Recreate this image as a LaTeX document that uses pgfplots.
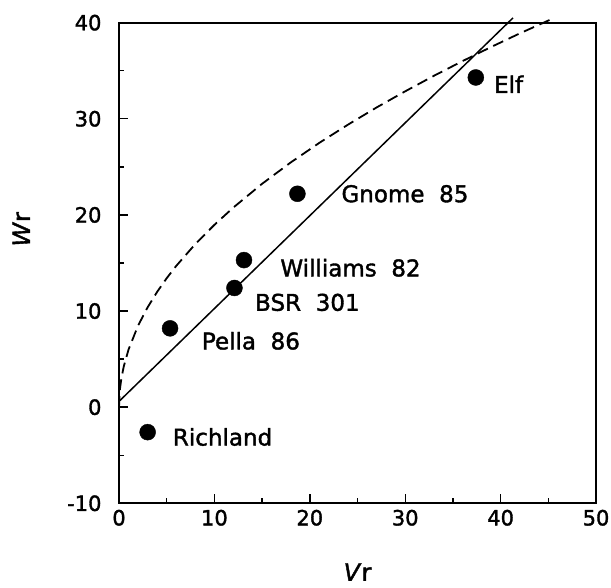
\documentclass[border=0pt]{standalone}
\usepackage{pgfplots}
\pgfplotsset{compat=1.18}
\usepackage{fontspec}
\setmainfont{DejaVu Sans}[RawFeature={embolden=1.6}]
\begin{document}
\begin{tikzpicture}[x=1pt,y=1pt]
\begin{axis}[
  scale only axis,
  width=477pt, height=480.6pt,
  xmin=0, xmax=50, ymin=-10, ymax=40,
  xtick={0,10,...,50}, ytick={-10,0,...,40},
  minor xtick={5,15,...,45}, minor ytick={-5,5,...,35},
  tick align=inside,
  xtick pos=bottom, ytick pos=left,
  major tick length=9pt, minor tick length=5pt,
  tick style={line width=1.4pt, black},
  axis line style={line width=2pt},
  /pgf/number format/assume math mode=true,
  tick label style={font=\fontsize{21}{24}\selectfont},
  xticklabel style={yshift=-3pt},
  yticklabel style={xshift=-14pt},
  xlabel={\textit{V}r}, ylabel={\textit{W}r},
  every axis x label/.style={at={(axis description cs:0.5,-0.143)},anchor=center,font=\fontsize{24}{27}\selectfont},
  every axis y label/.style={at={(axis description cs:-0.205,0.57)},anchor=center,rotate=90,font=\fontsize{24}{27}\selectfont},
  clip=false,
]
\addplot[black, line width=1.8pt, dash pattern=on 11pt off 6pt] coordinates {
(0,0) (0.1,1.9) (0.25,3.0) (0.5,4.24) (1,6.0) (2,8.49) (3,10.39) (4,12.0)
(5,13.42) (6,14.7) (8,16.97) (10,18.97) (12,20.78) (15,23.24) (18,25.46)
(21,27.5) (24,29.39) (27,31.18) (30,32.86) (33,34.47) (36,36.0) (39,37.47)
(42,38.88) (45.4,40.4)};
\addplot[black, line width=1.5pt] coordinates {(0,0.6) (41.3,40.5)};
\addplot[only marks, mark=*, mark size=8pt, black] coordinates {
(3.0,-2.6) (5.35,8.2) (12.1,12.4) (13.1,15.3) (18.7,22.2) (37.4,34.3)};
\begin{scope}[every node/.style={anchor=west, font=\fontsize{23}{26}\selectfont, inner sep=0pt}]
\node at (axis cs:5.63,-3.1) {Richland};
\node at (axis cs:8.67,6.9) {Pella\ \ 86};
\node at (axis cs:14.25,10.9) {BSR\ \ 301};
\node at (axis cs:16.9,14.5) {Williams\ \ 82};
\node at (axis cs:23.3,22.2) {Gnome\ \ 85};
\node at (axis cs:39.3,33.6) {Elf};
\end{scope}
\coordinate (bl) at (rel axis cs:-0.2495,-0.1762);
\coordinate (tr) at (rel axis cs:1.0314,1.0472);
\end{axis}
\pgfresetboundingbox
\path[use as bounding box] (bl) rectangle (tr);
\end{tikzpicture}
\end{document}
